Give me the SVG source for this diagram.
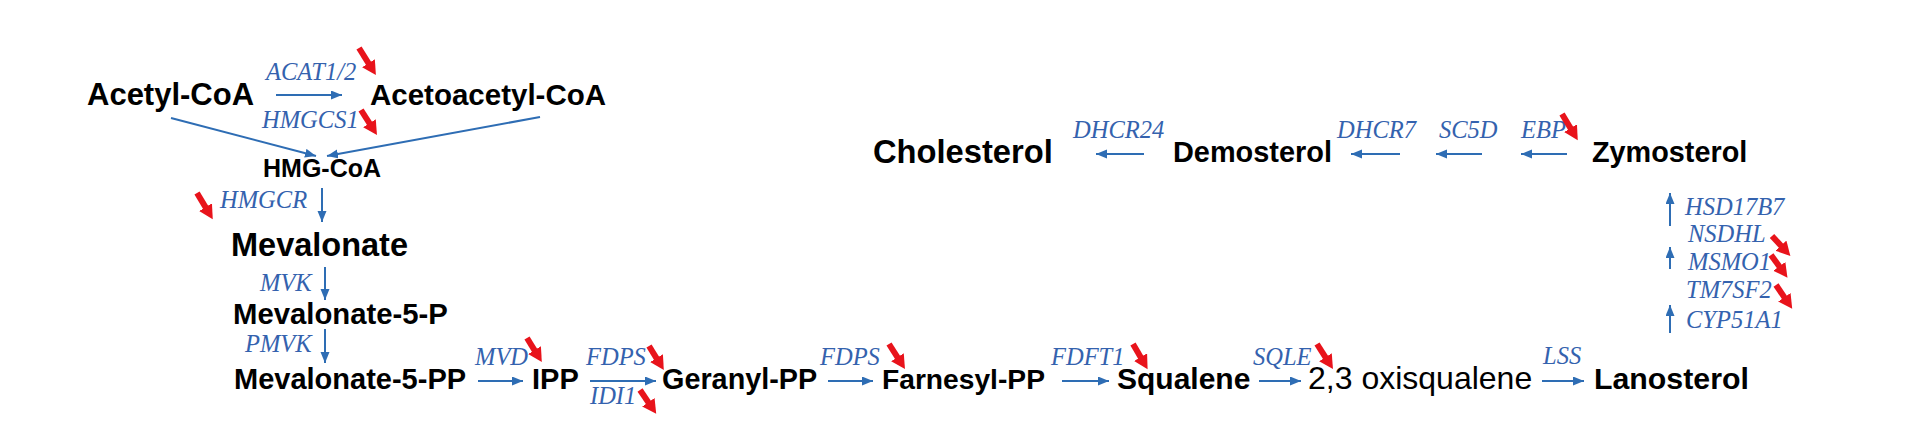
<svg xmlns="http://www.w3.org/2000/svg" width="1920" height="421" viewBox="0 0 1920 421">
<defs>
<marker id="ba" markerUnits="userSpaceOnUse" markerWidth="12" markerHeight="10" refX="11" refY="4.5" orient="auto"><path d="M0,0 L11,4.5 L0,9 z" fill="#2E6DB4"/></marker>
<marker id="ra" markerUnits="userSpaceOnUse" markerWidth="16" markerHeight="16" refX="4" refY="7.5" orient="auto"><path d="M0,0 L14,7.5 L0,15 z" fill="#E8131B"/></marker>
</defs>
<style>
.m{font-family:"Liberation Sans",Arial,sans-serif;font-weight:bold;fill:#000}
.r{font-family:"Liberation Sans",Arial,sans-serif;fill:#000}
.e{font-family:"Liberation Serif","Times New Roman",serif;font-style:italic;font-size:24.5px;fill:#3462AE}
.c{stroke:#2E6DB4;stroke-width:2;fill:none;marker-end:url(#ba)}
.d{stroke:#E8131B;stroke-width:6;fill:none;marker-end:url(#ra)}
</style>
<rect width="1920" height="421" fill="#fff"/>
<g id="acetyl-coa"><text class="m" x="87" y="105" font-size="31">Acetyl-CoA</text></g>
<g id="acetoacetyl-coa"><text class="m" x="370" y="105" font-size="29.5">Acetoacetyl-CoA</text></g>
<g id="hmg-coa"><text class="m" x="263" y="177" font-size="25">HMG-CoA</text></g>
<g id="mevalonate"><text class="m" x="231" y="256" font-size="32.5">Mevalonate</text></g>
<g id="mevalonate-5-p"><text class="m" x="233" y="324" font-size="29.3">Mevalonate-5-P</text></g>
<g id="mevalonate-5-pp"><text class="m" x="234" y="389" font-size="29">Mevalonate-5-PP</text></g>
<g id="ipp"><text class="m" x="532" y="389" font-size="29">IPP</text></g>
<g id="geranyl-pp"><text class="m" x="662" y="389" font-size="28.8">Geranyl-PP</text></g>
<g id="farnesyl-pp"><text class="m" x="882" y="389" font-size="28.2">Farnesyl-PP</text></g>
<g id="squalene"><text class="m" x="1117" y="389" font-size="30">Squalene</text></g>
<g id="oxisqualene"><text class="r" x="1308" y="389" font-size="32">2,3 oxisqualene</text></g>
<g id="lanosterol"><text class="m" x="1594" y="389" font-size="30.3">Lanosterol</text></g>
<g id="zymosterol"><text class="m" x="1592" y="162" font-size="28.8">Zymosterol</text></g>
<g id="demosterol"><text class="m" x="1173" y="162" font-size="28.9">Demosterol</text></g>
<g id="cholesterol"><text class="m" x="873" y="163" font-size="32.7">Cholesterol</text></g>
<g id="enzymes">
<text class="e" x="266" y="80">ACAT1/2</text>
<text class="e" x="262" y="128">HMGCS1</text>
<text class="e" x="220" y="208">HMGCR</text>
<text class="e" x="260" y="291">MVK</text>
<text class="e" x="245" y="352">PMVK</text>
<text class="e" x="475" y="365">MVD</text>
<text class="e" x="586" y="365">FDPS</text>
<text class="e" x="590" y="404">IDI1</text>
<text class="e" x="820" y="365">FDPS</text>
<text class="e" x="1051" y="365">FDFT1</text>
<text class="e" x="1253" y="365">SQLE</text>
<text class="e" x="1543" y="364">LSS</text>
<text class="e" x="1685" y="215">HSD17B7</text>
<text class="e" x="1688" y="242">NSDHL</text>
<text class="e" x="1688" y="270">MSMO1</text>
<text class="e" x="1686" y="298">TM7SF2</text>
<text class="e" x="1686" y="328">CYP51A1</text>
<text class="e" x="1521" y="138">EBP</text>
<text class="e" x="1439" y="138">SC5D</text>
<text class="e" x="1337" y="138">DHCR7</text>
<text class="e" x="1073" y="138">DHCR24</text>
</g>
<g id="connectors">
<line class="c" x1="276" y1="95" x2="342" y2="95"/>
<line class="c" x1="171" y1="118" x2="316" y2="156"/>
<line class="c" x1="540" y1="117" x2="327" y2="156"/>
<line class="c" x1="322" y1="188" x2="322" y2="222"/>
<line class="c" x1="325" y1="267" x2="325" y2="300"/>
<line class="c" x1="325" y1="329" x2="325" y2="363"/>
<line class="c" x1="478" y1="381" x2="523" y2="381"/>
<line class="c" x1="590" y1="381" x2="656" y2="381"/>
<line class="c" x1="828" y1="381" x2="873" y2="381"/>
<line class="c" x1="1062" y1="381" x2="1109" y2="381"/>
<line class="c" x1="1259" y1="381" x2="1301" y2="381"/>
<line class="c" x1="1542" y1="381" x2="1584" y2="381"/>
<line class="c" x1="1670" y1="226" x2="1670" y2="193"/>
<line class="c" x1="1670" y1="269" x2="1670" y2="247"/>
<line class="c" x1="1670" y1="333" x2="1670" y2="305"/>
<line class="c" x1="1567" y1="154" x2="1521" y2="154"/>
<line class="c" x1="1482" y1="154" x2="1436" y2="154"/>
<line class="c" x1="1400" y1="154" x2="1351" y2="154"/>
<line class="c" x1="1144" y1="154" x2="1096" y2="154"/>
</g>
<g id="regulation">
<line class="d" x1="359" y1="48" x2="370.6" y2="66.6"/>
<line class="d" x1="361" y1="110" x2="371.6" y2="126.6"/>
<line class="d" x1="197" y1="193" x2="207.6" y2="210.6"/>
<line class="d" x1="527" y1="338" x2="536.6" y2="353.6"/>
<line class="d" x1="649" y1="346" x2="658.6" y2="361.6"/>
<line class="d" x1="640" y1="390" x2="650.6" y2="405.6"/>
<line class="d" x1="889" y1="344" x2="899.6" y2="360.6"/>
<line class="d" x1="1133" y1="344" x2="1142.6" y2="360.6"/>
<line class="d" x1="1317" y1="344" x2="1327.6" y2="360.6"/>
<line class="d" x1="1562" y1="114" x2="1572.6" y2="131.6"/>
<line class="d" x1="1772" y1="236" x2="1783.6" y2="248.6"/>
<line class="d" x1="1771" y1="255" x2="1781.6" y2="269.6"/>
<line class="d" x1="1776" y1="285" x2="1786.6" y2="300.6"/>
</g>
</svg>
